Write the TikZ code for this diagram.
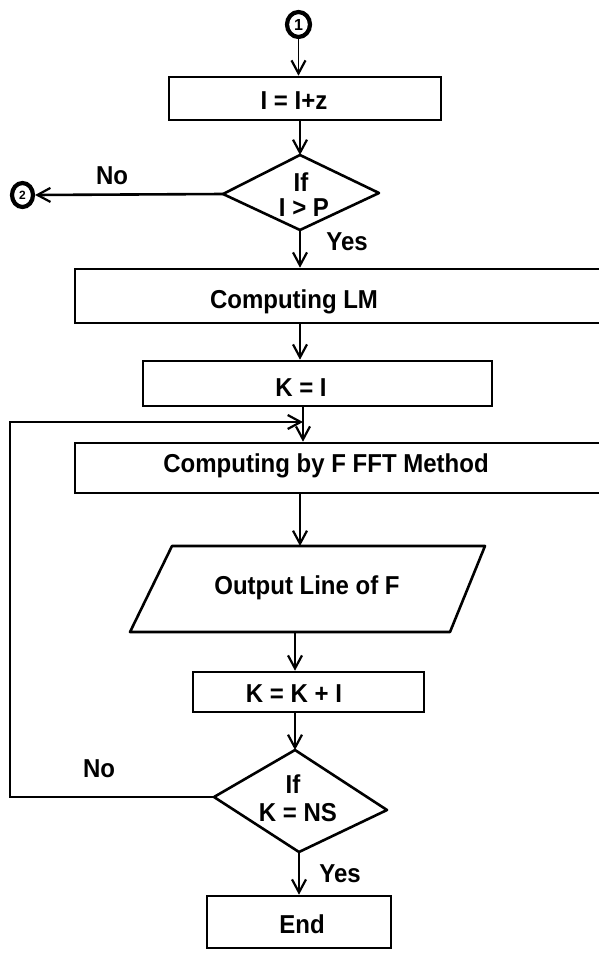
\documentclass[tikz,border=0pt]{standalone}
\usepackage{fontspec}
\setmainfont{Liberation Sans}
\usetikzlibrary{arrows.meta,shapes.geometric}
\begin{document}
\begin{tikzpicture}[x=1pt,y=-1pt,line width=2.6pt,
  box/.style={draw,inner sep=0pt},
  txt/.style={font=\fontsize{24}{28}\selectfont\bfseries,inner sep=0pt,text height=17pt,text depth=0pt,yscale=1.08},
  conn/.style={draw,ellipse,line width=4.2pt,inner sep=0pt},
  arr/.style={-{Straight Barb[length=13pt,width=14pt,line width=2.2pt]}}]
\useasboundingbox (0,0) rectangle (598,953);
% connectors (circles)
\node[conn,minimum width=23pt,minimum height=25pt,font=\fontsize{16}{16}\selectfont\bfseries] (c1) at (298.5,24.5) {1};
\node[conn,minimum width=21pt,minimum height=24pt,font=\fontsize{12}{12}\selectfont\bfseries] (c2) at (22.5,195) {2};
% boxes
\node[box,minimum width=272pt,minimum height=43pt] (b1) at (305,98.5) {};
\node[txt] (t1) at (294,100) {I = I+z};
% diamond 1
\coordinate (d1t) at (300,155);
\coordinate (d1l) at (223,194);
\coordinate (d1r) at (379,193);
\coordinate (d1b) at (300,230);
\draw[line join=round] (d1t) -- (d1r) -- (d1b) -- (d1l) -- cycle;
\node[txt] (t2a) at (301,182) {If};
\node[txt] (t2b) at (304,207) {I > P};
\node[txt] (no1) at (112,175) {No};
\node[txt] (yes1) at (347,241) {Yes};
% box 2
\node[box,minimum width=525pt,minimum height=54pt] (b2) at (337.5,296) {};
\node[txt] (t3) at (294,299) {Computing LM};
% box 3
\node[box,minimum width=349pt,minimum height=45pt] (b3) at (317.5,383.5) {};
\node[txt] (t4) at (301,387) {K = I};
% box 4
\node[box,minimum width=525pt,minimum height=50pt] (b4) at (337.5,468) {};
\node[txt] (t5) at (326,463) {Computing by F FFT Method};
% parallelogram
\coordinate (p1) at (172,546);
\coordinate (p2) at (485,546);
\coordinate (p3) at (450,632);
\coordinate (p4) at (130,632);
\draw[line join=round] (p1) -- (p2) -- (p3) -- (p4) -- cycle;
\coordinate (pt) at (300,546);
\coordinate (pb) at (295,632);
\node[txt] (t6) at (307,585) {Output Line of F};
% box 5
\node[box,minimum width=231pt,minimum height=40pt] (b5) at (308.5,692) {};
\node[txt] (t7) at (294,693) {K = K + I};
% diamond 2
\coordinate (d2t) at (295,750);
\coordinate (d2l) at (214,797);
\coordinate (d2r) at (387,810);
\coordinate (d2b) at (299,852);
\draw[line join=round] (d2t) -- (d2r) -- (d2b) -- (d2l) -- cycle;
\node[txt] (t8a) at (293,784) {If};
\node[txt] (t8b) at (298,812) {K = NS};
\node[txt] (no2) at (99,768) {No};
\node[txt] (yes2) at (340,873) {Yes};
% End
\node[box,minimum width=184pt,minimum height=52pt] (b6) at (299,922) {};
\node[txt] (t9) at (302,924) {End};
% arrows
\draw[arr,line width=1.8pt] (c1.south) -- (b1.north -| c1.south);
\draw[arr] (b1.south -| d1t) -- (d1t);
\draw[arr] (d1l) -- (c2.east);
\draw[arr] (d1b) -- (b2.north -| d1b);
\draw[arr] (b2.south -| d1b) -- (b3.north -| d1b);
\coordinate (m) at (303,422);
\draw[arr] (b3.south -| m) -- (b4.north -| m);
\draw[arr] (d2l) -- (10,797) -- (10,422) -- (m);
\draw[arr] (b4.south -| pt) -- (pt);
\draw[arr] (pb) -- (b5.north -| pb);
\draw[arr] (b5.south -| d2t) -- (d2t);
\draw[arr] (d2b) -- (b6.north -| d2b);
\end{tikzpicture}
\end{document}
